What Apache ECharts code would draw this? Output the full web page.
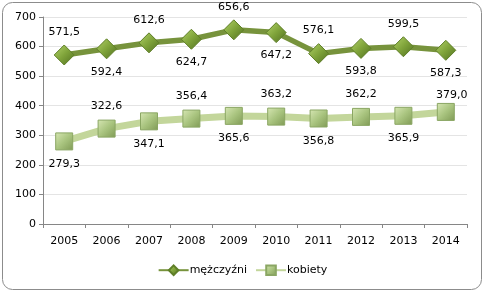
<!DOCTYPE html>
<html><head><meta charset="utf-8">
<script src="https://cdn.jsdelivr.net/npm/echarts@6/dist/echarts.min.js"></script>
<style>html,body{margin:0;padding:0;background:#fff}#c{width:485px;height:293px}</style>
</head><body><div id="c"></div>
<script>
var categories = ['2005','2006','2007','2008','2009','2010','2011','2012','2013','2014'];
var men = [571.5, 592.4, 612.6, 624.7, 656.6, 647.2, 576.1, 593.8, 599.5, 587.3];
var women = [279.3, 322.6, 347.1, 356.4, 365.6, 363.2, 356.8, 362.2, 365.9, 379.0];
var yTicks = [0, 100, 200, 300, 400, 500, 600, 700];

function fmt(v){ return v.toFixed(1).replace('.', ','); }
var FONT = 'DejaVu Sans';

function withLabels(arr, firstTop, lastLabel){
  return arr.map(function(v, i){
    var top = (i % 2 === 0) === firstTop;
    var item = {value: v, label: {position: top ? 'top' : 'bottom'}};
    if (i === arr.length - 1 && lastLabel) item.label = lastLabel;
    return item;
  });
}

var chart = echarts.init(document.getElementById('c'), null, {renderer: 'canvas'});
chart.setOption({
  animation: false,
  backgroundColor: '#fff',
  graphic: [{
    type: 'rect', left: 2, top: 2, z: -10,
    shape: {width: 479, height: 287, r: 10},
    style: {fill: '#fff', stroke: '#8c8c8c', lineWidth: 1}
  }],
  grid: {left: 43, right: 18, top: 17, bottom: 69, containLabel: false},
  xAxis: {
    type: 'category', data: categories, boundaryGap: true,
    axisLine: {lineStyle: {color: '#868686', width: 1}},
    axisTick: {show: true, length: 4, lineStyle: {color: '#868686'}},
    axisLabel: {color: '#000', fontFamily: FONT, fontSize: 11, margin: 12},
    splitLine: {show: false}
  },
  yAxis: {
    type: 'value', min: yTicks[0], max: yTicks[yTicks.length-1], interval: 100,
    axisLine: {show: true, lineStyle: {color: '#868686', width: 1}},
    axisTick: {show: true, length: 4, lineStyle: {color: '#868686'}},
    axisLabel: {color: '#000', fontFamily: FONT, fontSize: 11, margin: 7},
    splitLine: {lineStyle: {color: '#e4e4e4', width: 1}}
  },
  legend: {
    bottom: 12, left: 'center', itemWidth: 30, itemHeight: 12, itemGap: 8,
    textStyle: {color: '#000', fontFamily: FONT, fontSize: 11, padding: [0, 0, 0, -4]},
    data: ['mężczyźni', 'kobiety']
  },
  series: [
    {
      name: 'kobiety', type: 'line', data: withLabels(women, false, {position: 'top', offset: [6, 6]}),
      lineStyle: {color: '#c3d69b', width: 7},
      symbol: 'rect', symbolSize: 17,
      itemStyle: {
        color: new echarts.graphic.LinearGradient(0, 0, 1, 1, [
          {offset: 0, color: '#d7e7b4'}, {offset: 0.5, color: '#a9c47f'}, {offset: 1, color: '#7f9a55'}
        ]),
        borderColor: '#8aa663', borderWidth: 1
      },
      label: {show: true, formatter: function(p){ return fmt(p.value); }, color: '#000', fontFamily: FONT, fontSize: 11, distance: 8},
      z: 2
    },
    {
      name: 'mężczyźni', type: 'line', data: withLabels(men, true),
      lineStyle: {color: '#77933c', width: 5.5},
      symbol: 'diamond', symbolSize: 20,
      itemStyle: {
        color: new echarts.graphic.LinearGradient(0, 0, 1, 1, [
          {offset: 0, color: '#b4d46a'}, {offset: 0.5, color: '#7fa33a'}, {offset: 1, color: '#4f6e1f'}
        ]),
        borderColor: '#5f7f28', borderWidth: 1
      },
      label: {show: true, formatter: function(p){ return fmt(p.value); }, color: '#000', fontFamily: FONT, fontSize: 11, distance: 7},
      z: 3
    }
  ]
});
</script></body></html>
